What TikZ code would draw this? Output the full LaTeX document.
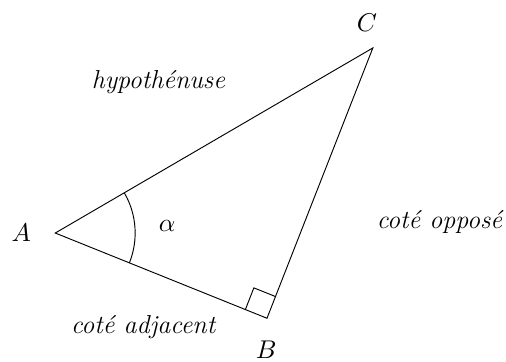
\documentclass[tikz,border=0pt]{standalone}
\usetikzlibrary{angles}
\begin{document}
\begin{tikzpicture}[every node/.style={font=\fontsize{11.1}{13}\selectfont},
  label/.style={font=\fontsize{11.1}{13}\selectfont\itshape}]
  \useasboundingbox (-0.83,-1.93) rectangle (6.77,3.50);
  \coordinate (A) at (0,0);
  \coordinate (B) at (3.18,-1.28);
  \coordinate (C) at (4.77,2.78);
  \draw (A) -- (B) -- (C) -- cycle;
  \pic[draw, angle radius=1.2cm] {angle = B--A--C};
  \pic[draw, angle radius=0.35cm] {right angle = C--B--A};
  \node (nA) at (-0.51,0) {$A$};
  \node (nB) at (3.17,-1.75) {$B$};
  \node (nC) at (4.68,3.16) {$C$};
  \node (alpha) at (1.68,0.10) {$\alpha$};
  \node[label] (hyp) at (1.55,2.27) {hypothénuse};
  \node[label] (opp) at (5.77,0.16) {coté opposé};
  \node[label] (adj) at (1.32,-1.41) {coté adjacent};
\end{tikzpicture}
\end{document}
